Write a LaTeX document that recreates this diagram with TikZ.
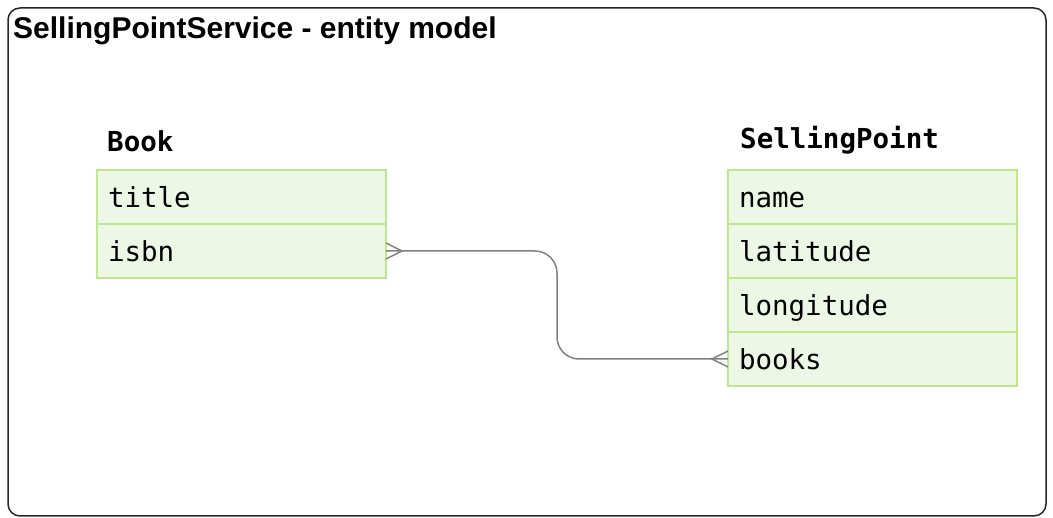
\documentclass[tikz,border=0pt]{standalone}
\usepackage{fontspec}
\setmainfont{Liberation Sans}
\setmonofont{DejaVu Sans Mono}
\usetikzlibrary{positioning, calc}
\definecolor{rowfill}{RGB}{237,247,230}
\definecolor{rowline}{RGB}{190,232,140}
\definecolor{linkgray}{RGB}{128,128,128}
\tikzset{field/.style = {draw = rowline, fill = rowfill, line width = 1.2pt,
                         rectangle, minimum width = 289pt, minimum height = 54pt,
                         text width = 267pt, inner xsep = 11pt, inner ysep = 0pt,
                         outer sep = 0pt, align = left,
                         execute at begin node = {\rule[-6pt]{0pt}{34pt}},
                         font = \fontsize{27.5}{30}\ttfamily},
         entity/.style = {anchor = base west, font = \fontsize{27.5}{30}\ttfamily\bfseries},
         link/.style = {draw = linkgray, line width = 1.5pt}}
\begin{document}
\begin{tikzpicture}[x = 1pt, y = -1pt]
  \useasboundingbox (0,0) rectangle (1053,518);
  \draw[line width = 1.5pt, rounded corners = 12pt, draw = black!85] (8,8) rectangle (1046,516);
  \node[anchor = base west, inner sep = 0pt, font = \fontsize{30}{33}\selectfont\bfseries]
       (heading) at (13,39) {SellingPointService - entity model};

  % Book
  \node[entity, inner sep = 0pt] (book) at (107,152) {Book};
  \node[field, anchor = north west] (title) at (97,170) {title};
  \node[field, below = 0pt of title] (isbn) {isbn};

  % SellingPoint
  \node[entity, inner sep = 0pt] (point) at (740,149) {SellingPoint};
  \node[field, anchor = north west] (name) at (728,170) {name};
  \node[field, below = 0pt of name] (latitude) {latitude};
  \node[field, below = 0pt of latitude] (longitude) {longitude};
  \node[field, below = 0pt of longitude] (books) {books};

  % relation
  \coordinate (bend) at ($(isbn.east)!0.5!(books.west)$);
  \draw[link, rounded corners = 22pt] (isbn.east) -| (bend) |- (books.west);
  \draw[link] ([yshift = 8pt]isbn.east) -- ++(16,8) -- ([yshift = -8pt]isbn.east);
  \draw[link] ([yshift = 8pt]books.west) -- ++(-16,8) -- ([yshift = -8pt]books.west);
\end{tikzpicture}
\end{document}
